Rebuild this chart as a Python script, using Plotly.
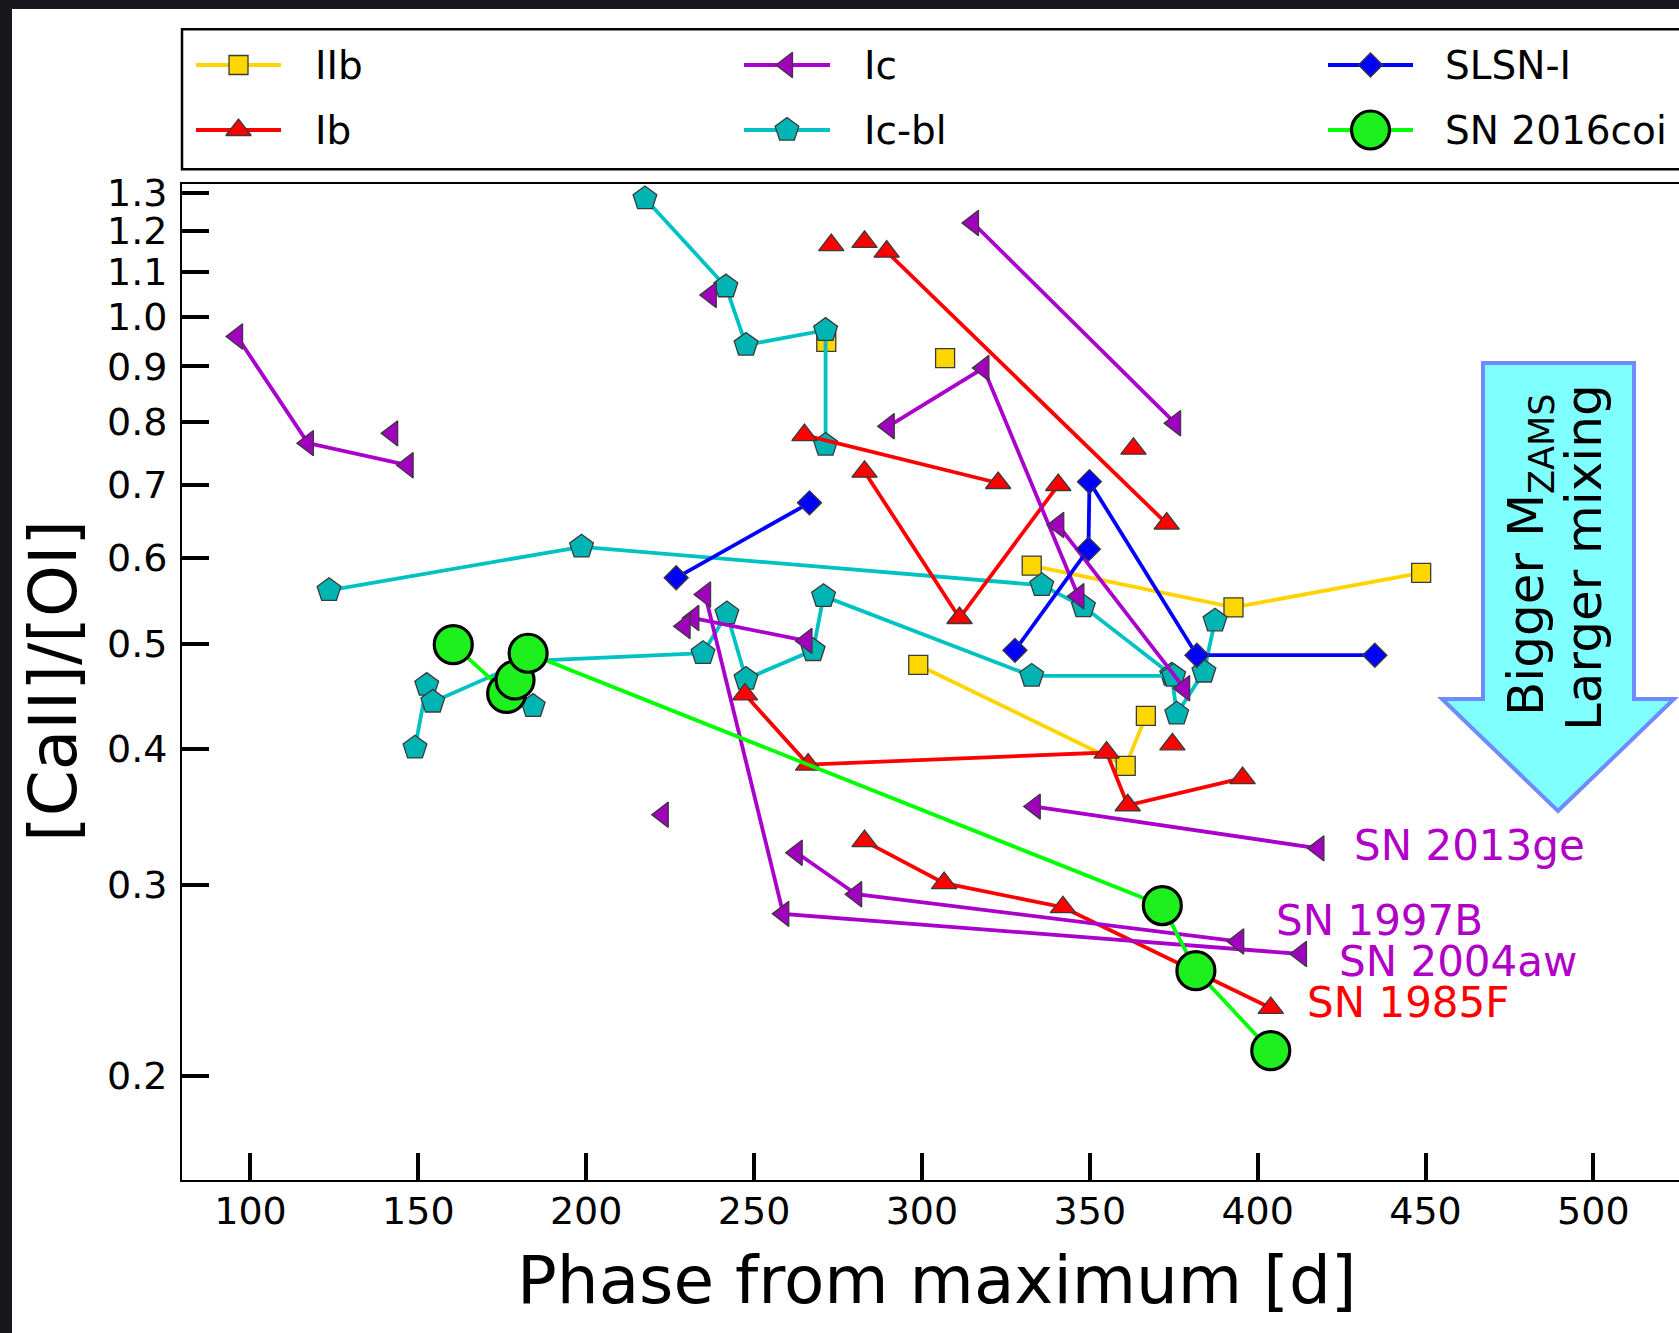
import math
import plotly.graph_objects as go

# ---------------------------------------------------------------------------
# Nebular [CaII]/[OI] line ratio against phase from maximum light.
# Each inner list is one supernova; one-entry lists are single epochs.
# ---------------------------------------------------------------------------
iib_phase = [[332.7, 392.8, 448.7], [298.9, 360.7, 366.7], [306.9], [271.5]]
iib_ratio = [[0.590, 0.540, 0.581], [0.478, 0.386, 0.429], [0.916], [0.948]]

ib_phase = [[273.0], [282.9], [289.5, 372.9], [265.0, 322.7],
            [282.9, 311.2, 340.6], [363.0],
            [247.3, 266.1, 355.0, 361.3, 395.5], [374.6],
            [282.9, 306.6, 342.0, 403.9]]                    # SN 1985F
ib_ratio = [[1.164], [1.172], [1.148, 0.645], [0.778, 0.703],
            [0.720, 0.528, 0.700], [0.756],
            [0.449, 0.387, 0.397, 0.355, 0.376], [0.404],
            [0.329, 0.301, 0.286, 0.231]]

ic_phase = [[96.0, 117.1, 146.8], [142.2], [315.2, 375.4],
            [290.1, 318.3, 346.6], [340.6, 378.1], [237.1],
            [231.9, 265.6], [229.3], [222.8],
            [235.4, 258.7, 412.9],                           # SN 2004aw
            [262.7, 280.4, 394.2],                           # SN 1997B
            [333.6, 418.1]]                                  # SN 2013ge
ic_ratio = [[0.959, 0.765, 0.730], [0.781], [1.220, 0.798],
            [0.793, 0.897, 0.553], [0.643, 0.455], [1.047],
            [0.528, 0.503], [0.519], [0.348],
            [0.555, 0.282, 0.259],
            [0.321, 0.294, 0.266],
            [0.354, 0.324]]

icbl_phase = [[217.5, 241.6, 247.6, 271.3, 271.3],
              [123.4, 198.6, 335.7, 348.1, 374.4, 375.9, 384.0, 387.3],
              [149.0, 152.5, 154.3, 182.0, 234.8, 241.9, 247.6, 267.6, 270.7, 332.7, 375.0],
              [184.2]]
icbl_ratio = [[1.285, 1.066, 0.942, 0.972, 0.762],
              [0.560, 0.614, 0.566, 0.541, 0.468, 0.431, 0.471, 0.525],
              [0.401, 0.458, 0.442, 0.482, 0.490, 0.533, 0.464, 0.493, 0.553, 0.467, 0.467],
              [0.438]]

slsn_phase = [[226.8, 266.5], [327.7, 349.6, 349.9, 381.9, 434.9]]
slsn_ratio = [[0.575, 0.674], [0.493, 0.611, 0.705, 0.488, 0.488]]

coi_phase = [160.4, 176.3, 178.8, 182.7, 371.6, 381.6, 403.9]
coi_ratio = [0.499, 0.450, 0.463, 0.490, 0.287, 0.250, 0.211]

x_ticks = [100, 150, 200, 250, 300, 350, 400, 450, 500]
y_ticks = [0.2, 0.3, 0.4, 0.5, 0.6, 0.7, 0.8, 0.9, 1.0, 1.1, 1.2, 1.3]

# ---------------------------------------------------------------------------
# Page geometry (pixels)
# ---------------------------------------------------------------------------
W, H = 1679, 1333
L, R, T, B = 182, 0, 0, 153
PLOT_W, PLOT_H = W - L - R, H - T - B
AXES_TOP = 183.5                 # top spine of the data panel
LEG_TOP, LEG_BOTTOM = 29.3, 169.3


def to_paper(px, py):
    return (px - L) / PLOT_W, (PLOT_H - py) / PLOT_H


FONT = "DejaVu Sans"
EDGE = "#3a3a3a"
LW = 3.8

STYLE = {
    "IIb":        dict(line="#FFD400", fill="#FFD700", symbol="square",        size=19,   edge=EDGE, ew=1.3),
    "Ib":         dict(line="#FF0000", fill="#FF0000", symbol="triangle-up",   size=22,   edge=EDGE, ew=1.3),
    "Ic":         dict(line="#AA00CC", fill="#A000BE", symbol="triangle-left", size=22,   edge=EDGE, ew=1.3),
    "Ic-bl":      dict(line="#00C2C2", fill="#00B4B4", symbol="pentagon",      size=25,   edge=EDGE, ew=1.3),
    "SLSN-I":     dict(line="#0000FF", fill="#0000FF", symbol="diamond",       size=18.5, edge=EDGE, ew=1.3),
    "SN 2016coi": dict(line="#00FF00", fill="#1EF01E", symbol="circle",        size=38,   edge="#000000", ew=3.2),
}

GROUPS = [("IIb", iib_phase, iib_ratio), ("Ic-bl", icbl_phase, icbl_ratio),
          ("Ib", ib_phase, ib_ratio), ("Ic", ic_phase, ic_ratio),
          ("SLSN-I", slsn_phase, slsn_ratio), ("SN 2016coi", [coi_phase], [coi_ratio])]


def marker_of(st):
    return dict(symbol=st["symbol"], size=st["size"], color=st["fill"],
                line=dict(color=st["edge"], width=st["ew"]))


fig = go.Figure()

for name, phases, ratios in GROUPS:
    st = STYLE[name]
    for ph, ra in zip(phases, ratios):
        fig.add_trace(go.Scatter(
            x=ph, y=ra, name=name, showlegend=False,
            mode="lines+markers" if len(ph) > 1 else "markers",
            line=dict(color=st["line"], width=LW),
            marker=marker_of(st),
        ))

# names written next to the last epoch of selected objects
sn_labels = [
    ("SN 2013ge", ic_phase[11], ic_ratio[11], "#B000C8", 34, 3),
    ("SN 1997B", ic_phase[10], ic_ratio[10], "#B000C8", 36, 21),
    ("SN 2004aw", ic_phase[9], ic_ratio[9], "#B000C8", 36, -8),
    ("SN 1985F", ib_phase[8], ib_ratio[8], "#FF0000", 34, 5),
]
for text, ph, ra, col, dx, dy in sn_labels:
    fig.add_annotation(text=text, x=ph[-1], y=math.log10(ra[-1]), xref="x", yref="y",
                       xanchor="left", yanchor="middle", xshift=dx, yshift=dy,
                       showarrow=False, font=dict(family=FONT, size=42, color=col))

# ---------------------------------------------------------------------------
# Legend: three columns, two rows, drawn on a hidden pixel-unit axis pair
# ---------------------------------------------------------------------------
leg_cols = [(196, 281, 313), (744, 830, 862), (1328, 1413, 1443)]   # key start, key end, text start
leg_rows = [65, 130]
leg_items = [("IIb", 0, 0), ("Ib", 0, 1), ("Ic", 1, 0),
             ("Ic-bl", 1, 1), ("SLSN-I", 2, 0), ("SN 2016coi", 2, 1)]

for name, c, r in leg_items:
    x0, x1, xt = leg_cols[c]
    yk = leg_rows[r]
    st = STYLE[name]
    fig.add_trace(go.Scatter(x=[x0, x1], y=[yk, yk], mode="lines", xaxis="x2", yaxis="y2",
                             line=dict(color=st["line"], width=LW), showlegend=False,
                             hoverinfo="skip"))
    fig.add_trace(go.Scatter(x=[(x0 + x1) / 2], y=[yk], mode="markers", xaxis="x2", yaxis="y2",
                             marker=marker_of(st), showlegend=False, hoverinfo="skip",
                             cliponaxis=False))
    fig.add_annotation(text=name, x=xt, y=yk + 0.8, xref="x2", yref="y2",
                       xanchor="left", yanchor="middle", showarrow=False,
                       font=dict(family=FONT, size=39, color="black"))

lx0, ly1 = to_paper(L, LEG_TOP)
_, ly0 = to_paper(L, LEG_BOTTOM)
fig.add_shape(type="rect", xref="paper", yref="paper", x0=lx0, x1=1.02, y0=ly0, y1=ly1,
              line=dict(color="black", width=2.5), fillcolor="rgba(0,0,0,0)")

# ---------------------------------------------------------------------------
# Downward arrow with its caption
# ---------------------------------------------------------------------------
arrow_px = [(1483, 363), (1634, 363), (1634, 699), (1674, 699),
            (1558, 811), (1442, 699), (1483, 699)]
arrow_path = "M " + " L ".join("%.5f,%.5f" % to_paper(*p) for p in arrow_px) + " Z"
fig.add_shape(type="path", path=arrow_path, xref="paper", yref="paper",
              fillcolor="#80FFFF", line=dict(color="#6E8CFF", width=4))

ax1, ay1 = to_paper(1529, 555)
fig.add_annotation(text="Bigger M<sub>ZAMS</sub>", x=ax1, y=ay1, xref="paper", yref="paper",
                   xanchor="center", yanchor="middle", textangle=-90, showarrow=False,
                   font=dict(family=FONT, size=50, color="black"))
ax2, ay2 = to_paper(1584, 558)
fig.add_annotation(text="Larger mixing", x=ax2, y=ay2, xref="paper", yref="paper",
                   xanchor="center", yanchor="middle", textangle=-90, showarrow=False,
                   font=dict(family=FONT, size=50, color="black"))

# ---------------------------------------------------------------------------
# Axis titles
# ---------------------------------------------------------------------------
tx, ty = to_paper(937, 1280)
fig.add_annotation(text="Phase from maximum [d]", x=tx, y=ty, xref="paper", yref="paper",
                   xanchor="center", yanchor="middle", showarrow=False,
                   font=dict(family=FONT, size=66, color="black"))
yx, yy = to_paper(53, 681)
fig.add_annotation(text="[CaII]/[OI]", x=yx, y=yy, xref="paper", yref="paper",
                   xanchor="center", yanchor="middle", textangle=-90, showarrow=False,
                   font=dict(family=FONT, size=66, color="black"))

# dark page edge on the left and top
px0, _ = to_paper(0, 0)
px12, _ = to_paper(12, 0)
_, py_bottom = to_paper(0, H)
_, py9 = to_paper(0, 9)
fig.add_shape(type="rect", xref="paper", yref="paper", x0=px0, x1=px12, y0=py_bottom, y1=1.0,
              fillcolor="#18171e", line_width=0)
fig.add_shape(type="rect", xref="paper", yref="paper", x0=px0, x1=1.0, y0=py9, y1=1.0,
              fillcolor="#18171e", line_width=0)

fig.update_layout(
    template="none",
    width=W, height=H,
    margin=dict(l=L, r=R, t=T, b=B, pad=0, autoexpand=False),
    paper_bgcolor="white", plot_bgcolor="white",
    font=dict(family=FONT, color="black"),
    showlegend=False,
    xaxis=dict(domain=[0, 1], anchor="y", range=[79.6, 525.5], automargin=False,
               tickvals=x_ticks, ticktext=[str(v) for v in x_ticks],
               ticks="inside", ticklen=27, tickwidth=3.5, tickcolor="black",
               showline=True, linecolor="black", linewidth=2, mirror=True,
               showgrid=False, zeroline=False, ticklabelstandoff=-4,
               tickfont=dict(family=FONT, size=38, color="black")),
    yaxis=dict(domain=[0, (PLOT_H - AXES_TOP) / PLOT_H], anchor="x", type="log",
               automargin=False,
               range=[math.log10(0.1604), math.log10(1.3265)],
               tickvals=y_ticks, ticktext=["%.1f" % v for v in y_ticks],
               ticks="inside", ticklen=27, tickwidth=3.5, tickcolor="black",
               showline=True, linecolor="black", linewidth=2, mirror=False,
               showgrid=False, zeroline=False, ticklabelstandoff=5,
               tickfont=dict(family=FONT, size=38, color="black")),
    xaxis2=dict(domain=[0, 1], anchor="y2", range=[L, W], visible=False,
                fixedrange=True, automargin=False),
    yaxis2=dict(domain=[(PLOT_H - LEG_BOTTOM) / PLOT_H, (PLOT_H - LEG_TOP) / PLOT_H],
                anchor="x2", range=[LEG_BOTTOM, LEG_TOP], visible=False,
                fixedrange=True, automargin=False),
)

fig.write_html("out.html")
